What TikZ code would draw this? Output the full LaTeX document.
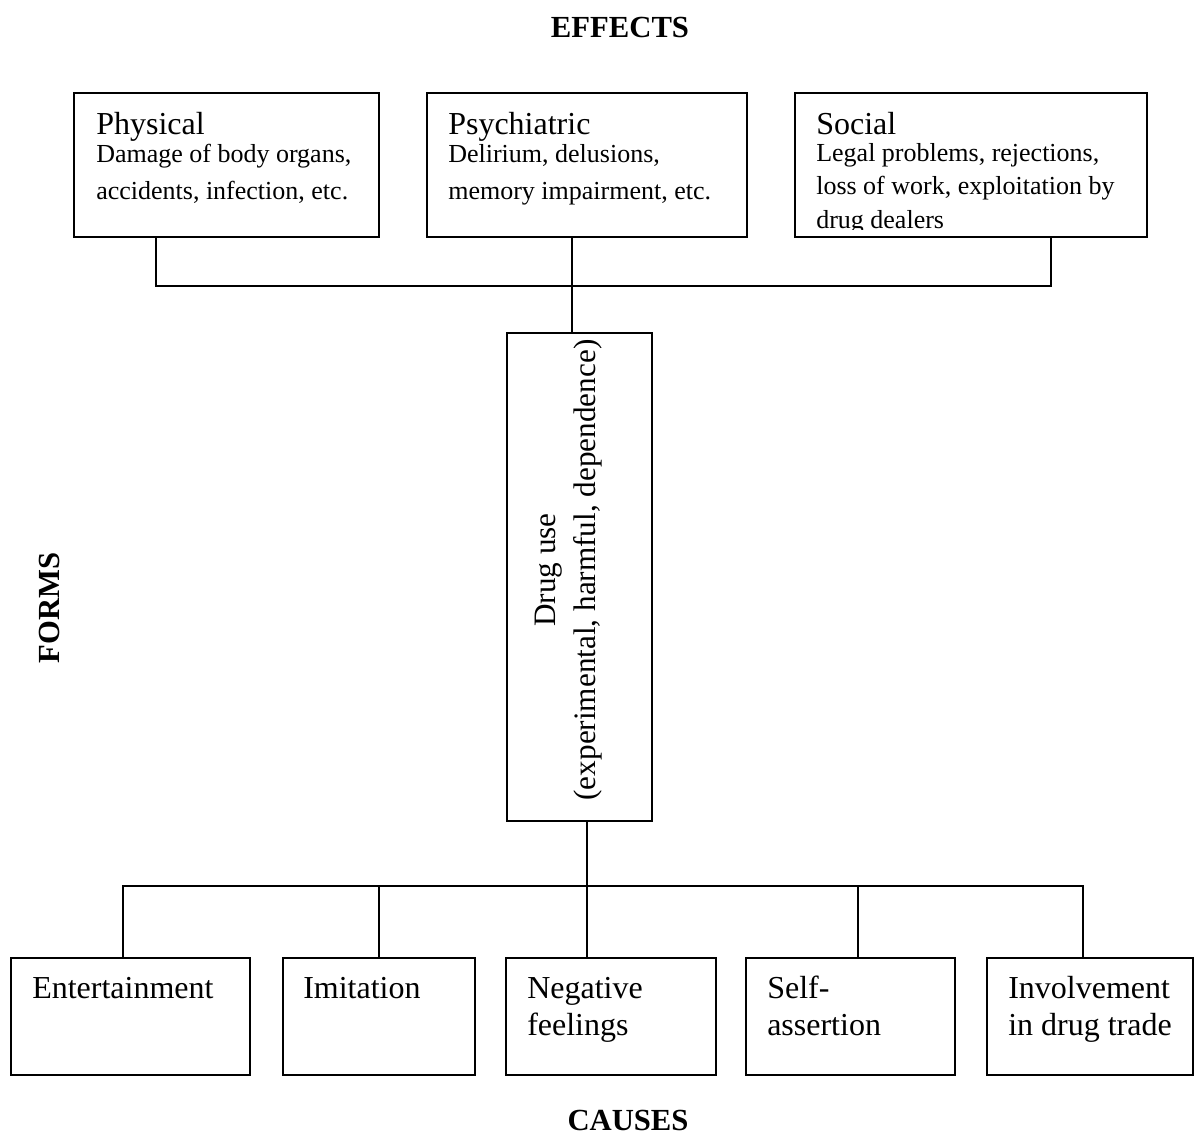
\documentclass[tikz,border=0pt]{standalone}
\usepackage{fontspec}
\setmainfont{Liberation Serif}
\usetikzlibrary{fit}
\begin{document}
\begin{tikzpicture}[x=0.75pt,y=-0.75pt,
  box/.style={draw, line width=1.6pt, inner sep=0pt, outer sep=0pt},
  conn/.style={line width=1.6pt, line cap=rect},
  head/.style={font=\bfseries\fontsize{23}{27}\selectfont, inner sep=0pt},
  main/.style={font=\fontsize{24}{27.75}\selectfont, inner sep=0pt, anchor=base west, align=left},
  sub/.style={font=\fontsize{19.5}{27.75}\selectfont, inner sep=0pt, anchor=base west, align=left}]
\useasboundingbox (0,0) rectangle (1195,1142);

% titles
\node[head] (effects) at (620,27) {EFFECTS};
\node[head] (causes) at (628,1120) {CAUSES};
\node[head, rotate=90] (forms) at (49,608) {FORMS};

% effect boxes
\node[box, fit={(74,93) (379,237)}] (phys) {};
\node[box, fit={(427,93) (747,237)}] (psy) {};
\node[box, fit={(795,93) (1147,237)}] (soc) {};

% multi-line nodes: base anchor = baseline of last line
\node[main] (physh) at (96,134) {Physical};
\node[sub] (physt) at (96,199) {Damage of body organs,\\accidents, infection, etc.};
\node[main] (psyh) at (448,134) {Psychiatric};
\node[sub] (psyt) at (448,199) {Delirium, delusions,\\memory impairment, etc.};
\node[main] (soch) at (816,134) {Social};
\begin{scope}
\clip (795,93) rectangle (1147,229);
\node[sub, font=\fontsize{19.5}{25.1}\selectfont] (soct) at (816,228) {Legal problems, rejections,\\loss of work, exploitation by\\drug dealers};
\end{scope}

% drug use
\node[box, fit={(507,333) (652,821)}] (drug) {};
\node[rotate=90, align=center, inner sep=0pt, font=\fontsize{23.4}{30}\selectfont] (drugt) at (569,570) {Drug use\\(experimental, harmful, dependence)};

% cause boxes
\node[box, fit={(11,958) (250,1075)}] (ent) {};
\node[box, fit={(283,958) (475,1075)}] (imi) {};
\node[box, fit={(506,958) (716,1075)}] (neg) {};
\node[box, fit={(746,958) (955,1075)}] (self) {};
\node[box, fit={(987,958) (1193,1075)}] (inv) {};

\node[main] (entt) at (32,998) {Entertainment};
\node[main] (imit) at (303,998) {Imitation};
\node[main] (negt) at (527,1035) {Negative\\feelings};
\node[main] (selft) at (767,1035) {Self-\\assertion};
\node[main] (invt) at (1008,1035) {Involvement\\in drug trade};

% connectors top
\coordinate (t1) at (156,286);
\coordinate (t2) at (572,286);
\coordinate (t3) at (1051,286);
\draw[conn] (t1 |- phys.south) -- (t1) -- (t3) -- (t3 |- soc.south);
\draw[conn] (t2 |- psy.south) -- (t2 |- drug.north);

% connectors bottom
\coordinate (b0) at (587,886);
\coordinate (b1) at (123,886);
\coordinate (b2) at (379,886);
\coordinate (b4) at (858,886);
\coordinate (b5) at (1083,886);
\draw[conn] (b0 |- drug.south) -- (b0);
\draw[conn] (b1 |- ent.north) -- (b1) -- (b5) -- (b5 |- inv.north);
\draw[conn] (b2) -- (b2 |- imi.north);
\draw[conn] (b0) -- (b0 |- neg.north);
\draw[conn] (b4) -- (b4 |- self.north);
\end{tikzpicture}
\end{document}
